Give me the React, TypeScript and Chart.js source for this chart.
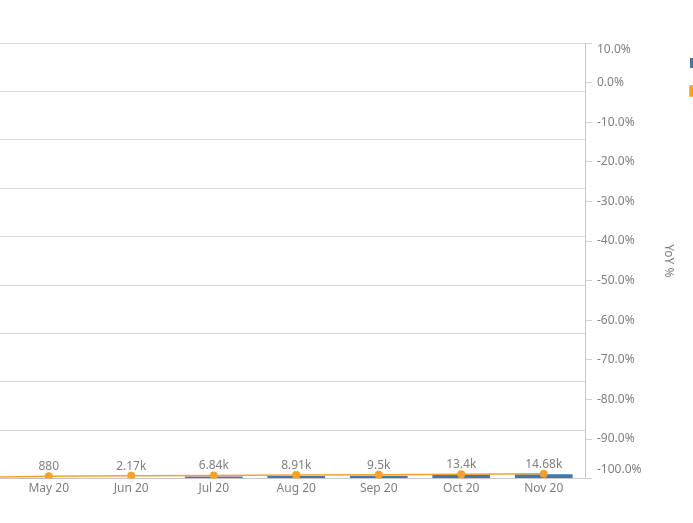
import React, { useEffect, useRef } from 'react';
import { Chart, registerables } from 'chart.js';

Chart.register(...registerables);

// ---- data ----
const categories = ['Apr 20', 'May 20', 'Jun 20', 'Jul 20', 'Aug 20', 'Sep 20', 'Oct 20', 'Nov 20'];
const salesValues: (number | null)[] = [null, 880, 2170, 6840, 8910, 9500, 13400, 14680];
const yoyValues = [-99.7, -99.4, -99.3, -99.2, -99.1, -99.0, -98.9, -98.8];
const leftAxisMax = 1440000;
const leftAxisStep = 160000;
const rightAxisMin = -100;
const rightAxisMax = 10;
const rightAxisStep = 10;
const seriesNames = ['Total Sales', 'YoY %'];

const BLUE = '#4477aa';
const ORANGE = '#f7a12b';
const TEXT = '#7f7f7f';
const FONT = '"Noto Sans", sans-serif';

const CANVAS_LEFT = -79;
const CANVAS_W = 837;
const CANVAS_H = 523;

function fmt(v: number) {
  if (v < 1000) return String(Math.round(v));
  const k = Math.round((v / 1000) * 100) / 100;
  return String(k) + 'k';
}

const valueLabels = {
  id: 'valueLabels',
  afterDatasetsDraw(chart: any) {
    const barMeta = chart.getDatasetMeta(0);
    const lineMeta = chart.getDatasetMeta(1);
    const ctx = chart.ctx;
    ctx.save();
    ctx.font = `12px ${FONT}`;
    ctx.fillStyle = TEXT;
    ctx.textAlign = 'center';
    ctx.textBaseline = 'alphabetic';
    barMeta.data.forEach((el: any, i: number) => {
      const v = salesValues[i];
      if (v == null) return;
      const pt = lineMeta.data[i];
      const top = Math.min(el.y, pt ? pt.y - 4 : el.y);
      ctx.fillText(fmt(v), el.x, top - 2);
    });
    ctx.restore();
  },
};

const shiftEndLabels = {
  id: 'shiftEndLabels',
  beforeDraw(chart: any) {
    const s = chart.scales.y1;
    if (!s) return;
    const items = s.getLabelItems(chart.chartArea);
    items.forEach((it: any) => {
      if (it._shifted) return;
      const lbl = Array.isArray(it.label) ? it.label[0] : it.label;
      if (lbl === '10.0%') it.options.translation[1] += 6.5;
      if (lbl === '-100.0%') it.options.translation[1] -= 9;
      it._shifted = true;
    });
  },
};

export default function App() {
  const ref = useRef<HTMLCanvasElement | null>(null);

  useEffect(() => {
    if (!ref.current) return;
    const chart = new Chart(ref.current, {
      type: 'bar',
      data: {
        labels: categories,
        datasets: [
          {
            type: 'bar',
            label: seriesNames[0],
            data: salesValues,
            backgroundColor: BLUE,
            borderWidth: 0,
            barPercentage: 0.7,
            categoryPercentage: 1,
            yAxisID: 'y',
            order: 1,
          },
          {
            type: 'line',
            label: seriesNames[1],
            data: yoyValues,
            borderColor: ORANGE,
            backgroundColor: ORANGE,
            borderWidth: 1.5,
            pointRadius: 4,
            pointBorderWidth: 0,
            pointBackgroundColor: ORANGE,
            tension: 0,
            yAxisID: 'y1',
            order: 0,
          },
        ],
      } as any,
      options: {
        responsive: false,
        maintainAspectRatio: false,
        animation: false,
        devicePixelRatio: 1,
        layout: { padding: { top: 43, bottom: 24, left: 0, right: 0 } },
        plugins: {
          legend: {
            display: true,
            position: 'right',
            align: 'start',
            maxWidth: 80,
            labels: {
              boxWidth: 10,
              boxHeight: 10,
              padding: 12,
              color: TEXT,
              font: { family: FONT, size: 16 },
              sort: (a: any, b: any) => a.datasetIndex - b.datasetIndex,
            },
          },
          tooltip: { enabled: false },
        },
        scales: {
          x: {
            offset: true,
            grid: { display: false, drawTicks: false },
            border: { display: true, color: '#c8c8c8', width: 1 },
            ticks: {
              color: TEXT,
              font: { family: FONT, size: 12 },
              padding: 3,
              maxRotation: 0,
              autoSkip: false,
            },
          },
          y: {
            position: 'left',
            min: 0,
            max: leftAxisMax,
            ticks: { display: false, stepSize: leftAxisStep },
            grid: { color: '#d9d9d9', lineWidth: 1, drawTicks: false },
            border: { display: false },
          },
          y1: {
            position: 'right',
            min: rightAxisMin,
            max: rightAxisMax,
            ticks: {
              stepSize: rightAxisStep,
              color: TEXT,
              font: { family: FONT, size: 12 },
              padding: 5,
              callback: (v: any) => Number(v).toFixed(1) + '%',
            },
            grid: { drawOnChartArea: false, drawTicks: true, tickLength: 7, color: '#d0d0d0' },
            border: { display: true, color: '#c8c8c8', width: 1 },
            title: {
              display: true,
              text: 'YoY %',
              color: TEXT,
              font: { family: FONT, size: 12, lineHeight: 1 },
              padding: { top: 4, bottom: 0 },
            },
            afterFit: (scale: any) => {
              scale.width = 93;
            },
          },
        },
      } as any,
      plugins: [valueLabels, shiftEndLabels],
    });
    return () => chart.destroy();
  }, []);

  return (
    <div
      style={{
        position: 'fixed',
        left: 0,
        top: 0,
        width: 693,
        height: 523,
        overflow: 'hidden',
        background: '#fff',
      }}
    >
      <canvas
        ref={ref}
        width={CANVAS_W}
        height={CANVAS_H}
        style={{ position: 'absolute', left: CANVAS_LEFT, top: 0, width: CANVAS_W, height: CANVAS_H }}
      />
    </div>
  );
}
